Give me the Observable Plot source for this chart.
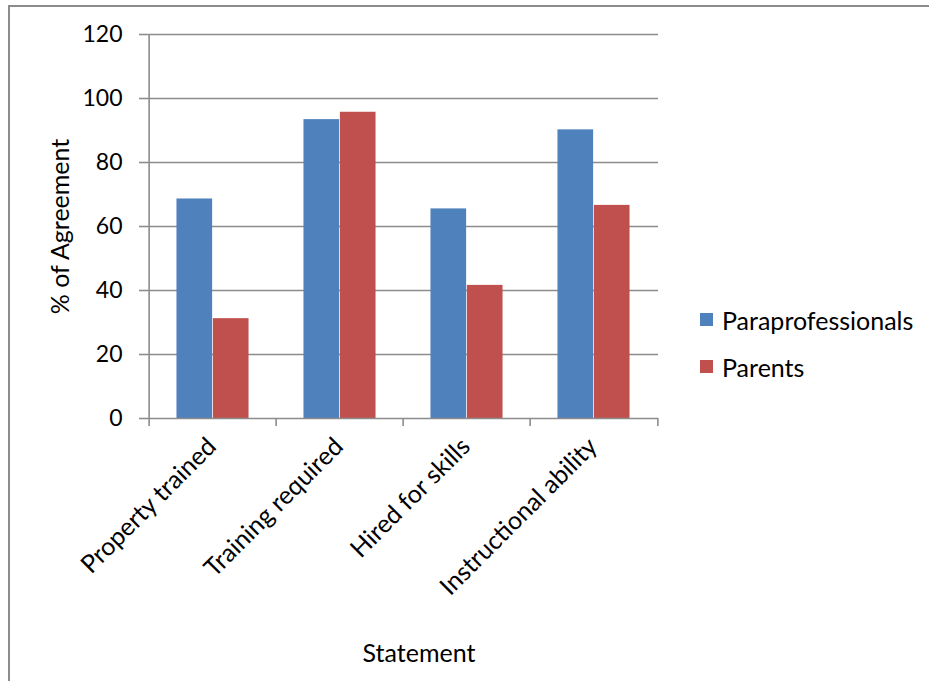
<!DOCTYPE html>
<html>
<head>
<meta charset="utf-8">
<script src="https://cdn.jsdelivr.net/npm/d3@7"></script>
<script src="https://cdn.jsdelivr.net/npm/@observablehq/plot@0.6"></script>
<style>
  html, body { margin: 0; padding: 0; background: #fff; }
  #wrap { position: relative; width: 929px; height: 681px; overflow: hidden; font-family: Lato, "Open Sans", sans-serif; }
  #frame { position: absolute; left: 8px; top: 5px; width: 940px; height: 700px; border-left: 2px solid #8c8c8c; border-top: 2px solid #8c8c8c; box-sizing: border-box; }
  #legend { position: absolute; left: 700px; top: 296px; font-size: 25px; color: #000; }
  .item { display: flex; align-items: center; height: 47px; }
  .sw { width: 13px; height: 13px; margin-right: 9px; }
  svg { position: absolute; left: 0; top: 0; }
</style>
</head>
<body>
<div id="wrap">
  <div id="frame"></div>
  <div id="chart"></div>
  <div id="legend"></div>
</div>
<script>
const categories = ["Property trained", "Training required", "Hired for skills", "Instructional ability"];
const seriesNames = ["Paraprofessionals", "Parents"];
const paraprofessionals = [68.6, 93.4, 65.5, 90.2];
const parents = [31.2, 95.7, 41.6, 66.6];
const yTicks = [0, 20, 40, 60, 80, 100, 120];
const colors = ["#4F81BD", "#C0504D"];

const rows = categories.flatMap((c, i) => [
  {category: c, series: seriesNames[0], value: paraprofessionals[i]},
  {category: c, series: seriesNames[1], value: parents[i]}
]);

const W = 929, H = 681;
const mL = 147, mR = 271, mT = 34, mB = 263;
const step = (W - mL - mR) / categories.length;
const groupW = 0.57 * step;
const barW = groupW / 2;
const outer = (step - groupW) / 2;

const font = "Lato, 'Open Sans', sans-serif";

const chart = Plot.plot({
  width: W,
  height: H,
  marginLeft: mL,
  marginRight: mR,
  marginTop: mT,
  marginBottom: mB,
  style: {fontFamily: font, fontSize: "24px", background: "transparent", color: "#000"},
  x: {domain: categories, padding: 0, axis: null},
  y: {domain: [0, 120], axis: null},
  marks: [
    Plot.ruleY(yTicks.slice(1), {y: d => d, stroke: "#8c8c8c", strokeWidth: 1.6}),
    Plot.barY(rows.filter(d => d.series === seriesNames[0]), {
      x: "category", y: "value", fill: colors[0],
      insetLeft: outer, insetRight: step - outer - barW
    }),
    Plot.barY(rows.filter(d => d.series === seriesNames[1]), {
      x: "category", y: "value", fill: colors[1],
      insetLeft: outer + barW, insetRight: outer
    }),
    // axis lines
    Plot.ruleY([0], {stroke: "#8c8c8c", strokeWidth: 1.6}),
    Plot.ruleX(categories.slice(0, 1), {x: d => d, dx: -step / 2, stroke: "#8c8c8c", strokeWidth: 1.6}),
    // category boundary ticks
    Plot.ruleX(categories, {x: d => d, dx: -step / 2, y1: 0, y2: -2.5, stroke: "#8c8c8c", strokeWidth: 1.6}),
    Plot.ruleX(categories.slice(-1), {x: d => d, dx: step / 2, y1: 0, y2: -2.5, stroke: "#8c8c8c", strokeWidth: 1.6}),
    Plot.axisY({ticks: yTicks, tickSize: 8, tickPadding: 17, stroke: "#8c8c8c", strokeWidth: 1.6, fontSize: 23, label: null, tickFormat: d => String(d)}),
    Plot.axisX({tickSize: 0, tickPadding: 24, tickRotate: -45, dx: -1, fontSize: 25, label: null}),
    Plot.text(["% of Agreement"], {frameAnchor: "left", textAnchor: "middle", dx: -87, rotate: -90, fontSize: 25, text: d => d}),
    Plot.text(["Statement"], {frameAnchor: "bottom", dx: 16, dy: 243, fontSize: 25, text: d => d})
  ]
});
document.getElementById("chart").appendChild(chart);

const legend = document.getElementById("legend");
seriesNames.forEach((s, i) => {
  const item = document.createElement("div");
  item.className = "item";
  const sw = document.createElement("span");
  sw.className = "sw";
  sw.style.background = colors[i];
  const t = document.createElement("span");
  t.textContent = s;
  item.appendChild(sw);
  item.appendChild(t);
  legend.appendChild(item);
});
</script>
</body>
</html>
